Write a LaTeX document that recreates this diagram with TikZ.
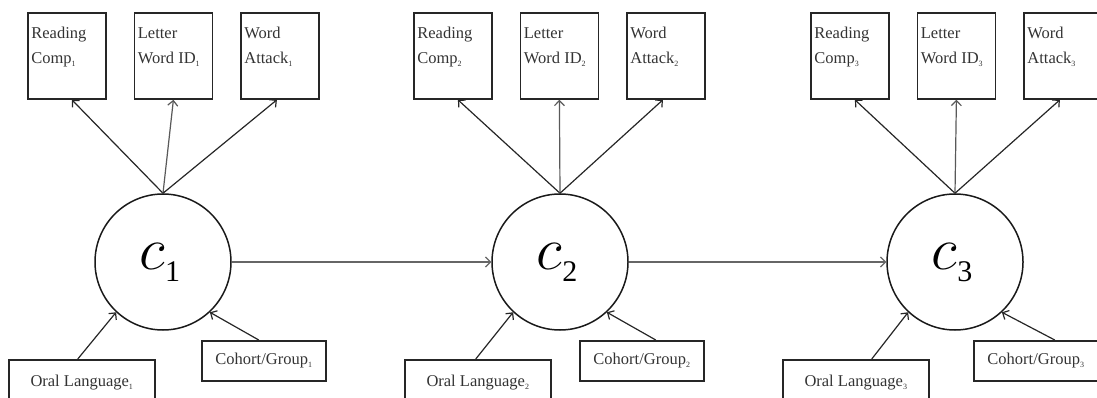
\documentclass[tikz,border=0pt]{standalone}
\usepackage{fontspec}
\setmainfont{Liberation Serif}
\usepackage{tikz}
\usetikzlibrary{arrows.meta,calc}
\newcommand{\occ}[1]{\raisebox{-3pt}{\fontsize{8}{8}\selectfont#1}}

\begin{document}
\begin{tikzpicture}[x=1pt,y=-1pt,
  font=\fontsize{16.5}{25}\selectfont,
  indicator/.style={draw=black!85,text=black!80,line width=1.8pt,rectangle,anchor=north west,
    inner xsep=3.5pt,inner ysep=8pt,minimum width=78pt,minimum height=86pt},
  covariate/.style={draw=black!85,text=black!80,line width=1.5pt,rectangle,anchor=north west,inner sep=0pt},
  latent/.style={draw=black!90,line width=1.5pt,circle,minimum size=136pt,inner sep=0pt},
  effect/.style={-{Straight Barb[length=5pt,width=10pt]},line width=1.2pt,draw=black!85}]
\useasboundingbox (0,0) rectangle (1097,398);

\foreach \i/\cx/\bx/\ox/\gx/\oa/\ga in {1/163/27/8/201/-4/-5, 2/560/413/404/579/-2/14, 3/955/810/782/973/16/19}{
  % latent class
  \node[latent] (c\i) at (\cx,262) {\hspace*{-6pt}\rule{0pt}{27pt}\scalebox{3.5}{$c$}\raisebox{-12pt}{\fontsize{30}{30}\selectfont\i}};
  % indicators
  \node[indicator] (rc\i) at (\bx,12) {\parbox[c][70pt][t]{71pt}{\strut Reading\\Comp\occ{\i}}};
  \node[indicator] (lw\i) at (\bx+106.5,12) {\parbox[c][70pt][t]{71pt}{\strut Letter\\Word ID\occ{\i}}};
  \node[indicator] (wa\i) at (\bx+213,12) {\parbox[c][70pt][t]{71pt}{\strut Word\\Attack\occ{\i}}};
  % covariates
  \node[covariate,minimum width=146pt,minimum height=46pt] (ol\i) at (\ox,359) {Oral Language\occ{\i}};
  \node[covariate,minimum width=124pt,minimum height=40pt] (cg\i) at (\gx,340) {Cohort/Group\occ{\i}};
  \draw[effect] (c\i.north) -- ($(rc\i.south)+(5,0)$);
  \draw[effect,draw=black!65] (c\i.north) -- (lw\i.south);
  \draw[effect] (c\i.north) -- ($(wa\i.south)+(-3,0)$);
  \draw[effect] ($(ol\i.north)+(\oa,0)$) -- (c\i.227);
  \draw[effect] ($(cg\i.north)+(\ga,0)$) -- (c\i.313);
}

% transitions
\draw[effect,draw=black!60] (c1.east) -- (c2.west);
\draw[effect,draw=black!60] (c2.east) -- (c3.west);
\end{tikzpicture}
\end{document}
